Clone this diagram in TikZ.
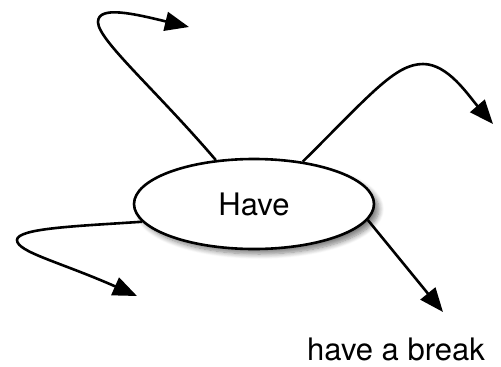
\documentclass[tikz,border=0pt]{standalone}
\usepackage{fontspec}
\setmainfont{TeX Gyre Heros}
\usetikzlibrary{shapes.geometric,arrows.meta,shadows.blur}
\begin{document}
\begin{tikzpicture}[x=1pt,y=-1pt,
  conn/.style={line width=2.6pt,-{Triangle[length=24pt,width=19pt]}},
  bubble/.style={ellipse,draw,line width=2.6pt,fill=white,minimum width=240pt,minimum height=90pt,inner sep=0pt,
    blur shadow={shadow xshift=5pt,shadow yshift=-5pt,shadow blur steps=8,shadow blur radius=5pt,shadow opacity=50}},
  lbl/.style={font=\fontsize{31}{37}\selectfont,inner sep=0pt}]
\useasboundingbox (0,0) rectangle (501,367);
\node[bubble,lbl] (have) at (254,204) {Have};
\node[lbl] (brk) at (396,349) {have a break};
\coordinate (t1) at (189,27);
\coordinate (t2) at (493,124);
\coordinate (t3) at (137,296);
\coordinate (t4) at (443,312);
\draw[conn] (have.131) .. controls (155,89) and (98,40) .. (98,22) .. controls (98,5) and (135,14) .. (t1);
\draw[conn] (have.41) .. controls (370,95) and (395,64) .. (423,64) .. controls (448,64) and (468,95) .. (t2);
\draw[conn] (have.189) .. controls (80,226) and (17,228) .. (17,240) .. controls (17,252) and (60,262) .. (t3);
\draw[conn] (have.-8) -- (t4);
\end{tikzpicture}
\end{document}
